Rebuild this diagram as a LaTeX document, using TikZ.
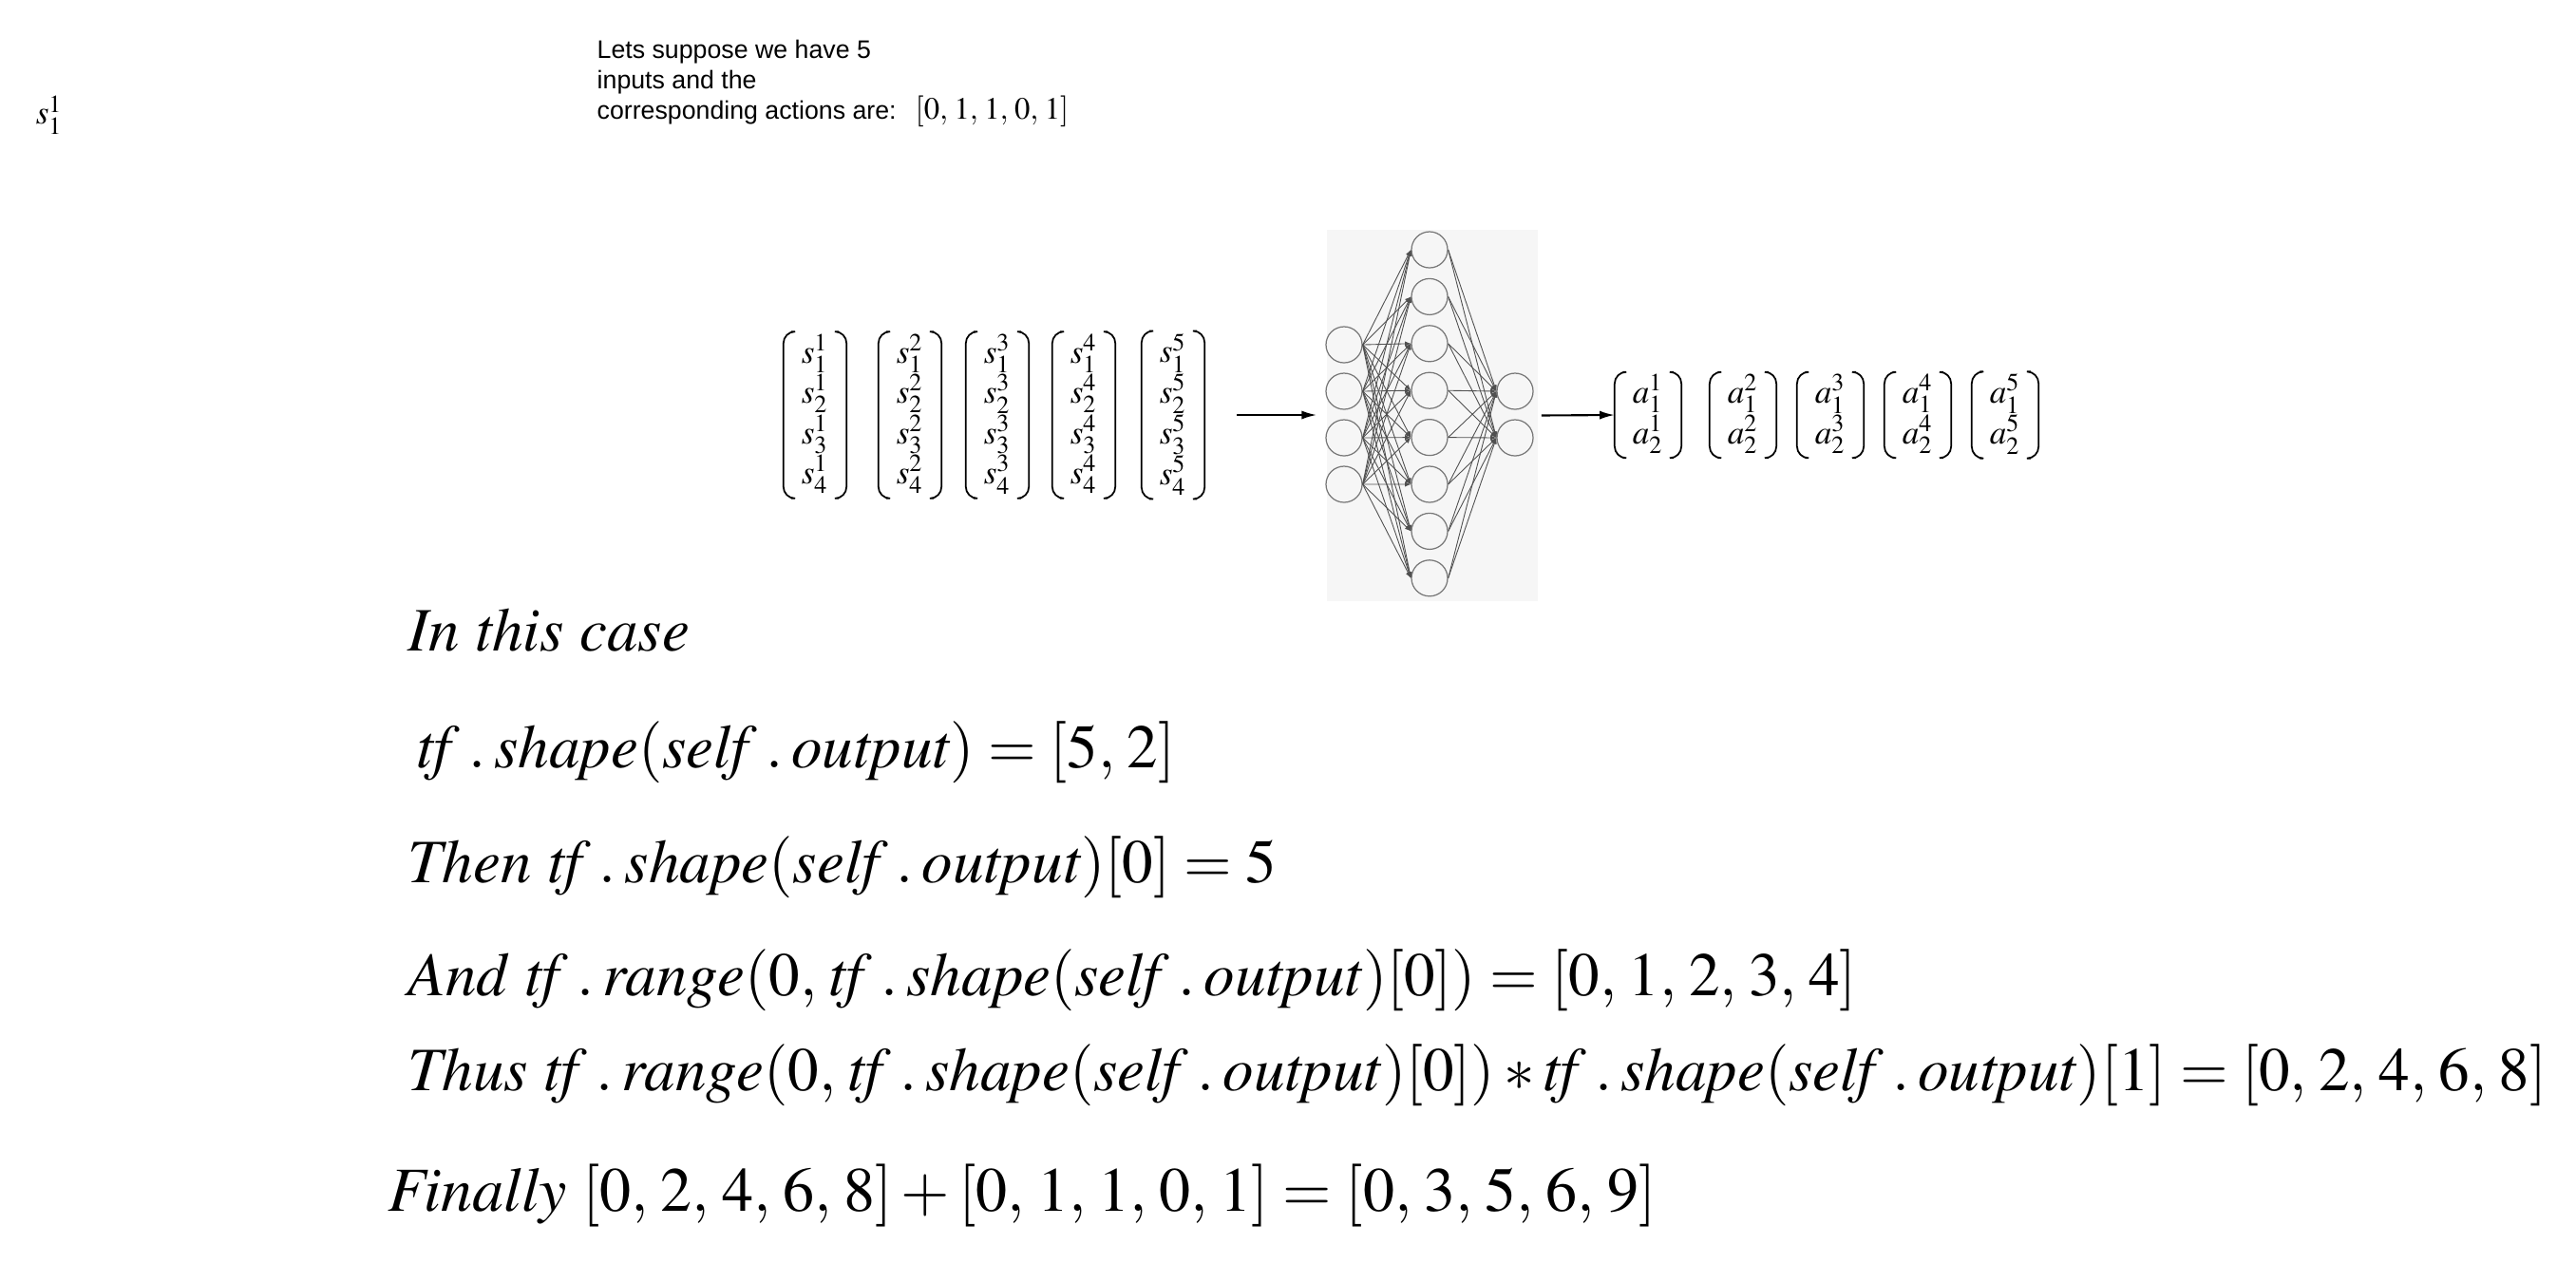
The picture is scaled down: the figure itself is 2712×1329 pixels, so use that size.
\documentclass[tikz,border=0pt]{standalone}
\usepackage{amsmath}
\usepackage{mathptmx}
\usepackage[no-math]{fontspec}
\setmainfont{Liberation Serif}
\newfontfamily\notefont{Liberation Sans}
\usepackage{tikz}
\usetikzlibrary{arrows.meta, positioning}
\definecolor{nnback}{RGB}{246,246,246}
\definecolor{nnline}{RGB}{80,80,80}
\definecolor{nncircle}{RGB}{120,120,120}
\thinmuskip=3.5mu
\newcommand{\mdot}{\mathbin{.}}
\newcommand{\word}[1]{\mathit{#1}}
\tikzset{
  vec/.style={inner xsep=5.2pt, inner ysep=0.6pt, font=\fontsize{10}{11.7}\selectfont},
  paren/.style={line width=0.5pt, rounded corners=3.5pt},
  neuron/.style={circle, draw=nncircle, fill=nnback, minimum size=0.38cm,
    inner sep=0pt, line width=0.35pt},
  link/.style={-{Latex[length=1.8pt,width=1.5pt]}, draw=nnline, line width=0.25pt},
  arrow/.style={-{Latex[length=4.5pt,width=2.6pt]}, line width=0.6pt, color=black},
  eqline/.style={anchor=base west, inner sep=0pt, font=\fontsize{18.5}{22}\selectfont},
  note/.style={anchor=north west, inner sep=0pt, align=left,
    font=\notefont\fontsize{7.6}{9.1}\selectfont}
}

\begin{document}
\begin{tikzpicture}[x=0.01cm, y=-0.01cm]
  \useasboundingbox (0,0) rectangle (2712,1329);
  % Lone label top left
  \node[inner sep=0pt, font=\fontsize{10}{12}\selectfont] (lone) at (52,121) {$s^1_1$};
  % Note about the actions
  \node[note] (note) at (628,41) {Lets suppose we have 5\\inputs and the\\corresponding actions are:};
  \node[anchor=base west, inner sep=0pt, font=\fontsize{9.3}{12}\selectfont] (acts) at (963,125) {$[0, 1, 1, 0, 1]$};

  % Input states
  \foreach \i/\x in {1/858,2/958,3/1050,4/1141,5/1235}
    \node[vec] (s\i) at (\x,437) {$\begin{matrix} s^{\i}_1\\ s^{\i}_2\\ s^{\i}_3\\ s^{\i}_4 \end{matrix}$};

  % Network
  \node[fill=nnback, inner sep=0pt, minimum width=2.22cm, minimum height=3.91cm] (nnbox) at (1508,437.5) {};
  \foreach \j in {1,...,4}
    \node[neuron] (in\j) at (1415,{363+49*(\j-1)}) {};
  \foreach \k in {1,...,8}
    \node[neuron] (hid\k) at (1505,{263+49.4*(\k-1)}) {};
  \foreach \m in {1,2}
    \node[neuron] (out\m) at (1595,{412+49*(\m-1)}) {};
  \foreach \j in {1,...,4}
    \foreach \k in {1,...,8}
      \draw[link] (in\j.east) -- (hid\k.west);
  \foreach \k in {1,...,8}
    \foreach \m in {1,2}
      \draw[link] (hid\k.east) -- (out\m.west);

  % Actions
  \foreach \i/\x in {1/1735,2/1835,3/1927,4/2019,5/2111}
    \node[vec] (a\i) at (\x,437) {$\begin{matrix} a^{\i}_1\\ a^{\i}_2 \end{matrix}$};

  % Brackets round the vectors
  \foreach \v in {s1,s2,s3,s4,s5,a1,a2,a3,a4,a5} {
    \draw[paren] ([xshift=2.4pt]\v.north west) -- (\v.north west)
      -- (\v.south west) -- ([xshift=2.4pt]\v.south west);
    \draw[paren] ([xshift=-2.4pt]\v.north east) -- (\v.north east)
      -- (\v.south east) -- ([xshift=-2.4pt]\v.south east);
  }

  % Arrows
  \draw[arrow, shorten <=0.34cm, shorten >=0.1cm] (s5.east) -- (s5.east -| nnbox.west);
  \draw[arrow, shorten <=0.03cm] (nnbox.east) -- (a1.west);

  % Explanation
  \node[eqline] (eq0) at (429,685) {$\word{In\ this\ case}$};
  \node[eqline] (eq1) at (438,808) {$\word{tf}\mdot\word{shape}(\word{self}\mdot\word{output}) = [5, 2]$};
  \node[eqline] (eq2) at (429,929) {$\word{Then}\ \word{tf}\mdot\word{shape}(\word{self}\mdot\word{output})[0] = 5$};
  \node[eqline] (eq3) at (429,1048) {$\word{And}\ \word{tf}\mdot\word{range}(0, \word{tf}\mdot\word{shape}(\word{self}\mdot\word{output})[0]) = [0, 1, 2, 3, 4]$};
  \node[eqline] (eq4) at (429,1148) {$\word{Thus}\ \word{tf}\mdot\word{range}(0, \word{tf}\mdot\word{shape}(\word{self}\mdot\word{output})[0]) \ast \word{tf}\mdot\word{shape}(\word{self}\mdot\word{output})[1] = [0, 2, 4, 6, 8]$};
  \node[eqline, font=\fontsize{18.8}{22}\selectfont] (eq5) at (408,1275) {$\word{Finally}\ [0, 2, 4, 6, 8] + [0, 1, 1, 0, 1] = [0, 3, 5, 6, 9]$};
\end{tikzpicture}
\end{document}
